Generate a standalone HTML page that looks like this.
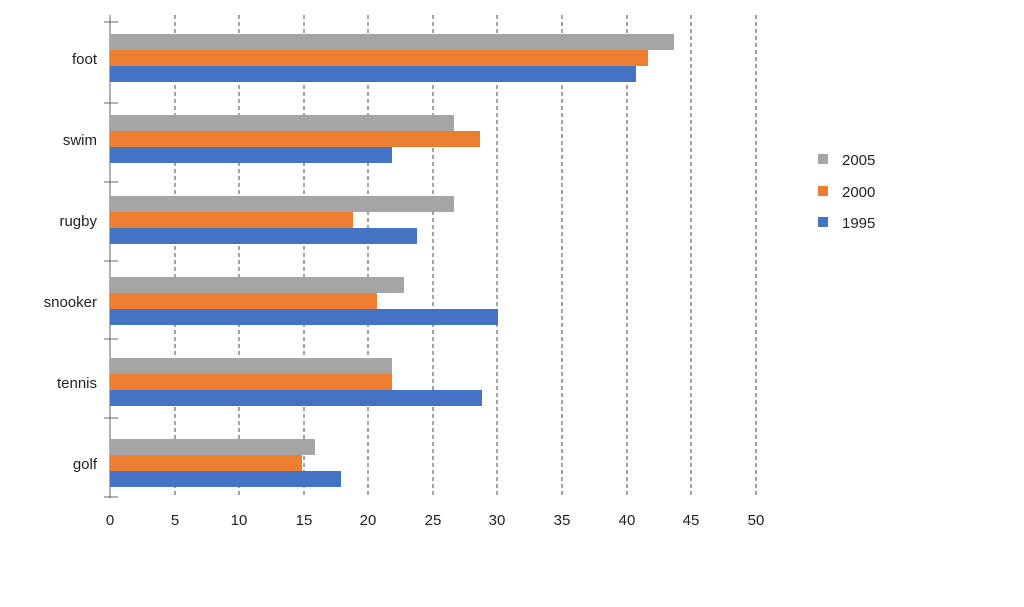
<!DOCTYPE html>
<html><head><meta charset="utf-8"><style>
html,body{margin:0;padding:0;background:#fff;width:1024px;height:607px;overflow:hidden}
svg text{font-family:"Liberation Sans",sans-serif;font-size:15px;fill:#222}
</style></head><body>
<svg width="1024" height="607" viewBox="0 0 1024 607" xmlns="http://www.w3.org/2000/svg">
<g stroke="#444" stroke-width="1" stroke-dasharray="4,3">
<line x1="175" y1="15" x2="175" y2="498"/><line x1="239" y1="15" x2="239" y2="498"/>
<line x1="304" y1="15" x2="304" y2="498"/><line x1="368" y1="15" x2="368" y2="498"/>
<line x1="433" y1="15" x2="433" y2="498"/><line x1="497" y1="15" x2="497" y2="498"/>
<line x1="562" y1="15" x2="562" y2="498"/><line x1="627" y1="15" x2="627" y2="498"/>
<line x1="691" y1="15" x2="691" y2="498"/><line x1="756" y1="15" x2="756" y2="498"/>
</g>
<g stroke="#666" stroke-width="1">
<line x1="110" y1="15" x2="110" y2="498"/>
<line x1="104" y1="22" x2="118" y2="22"/><line x1="104" y1="103" x2="118" y2="103"/>
<line x1="104" y1="182" x2="118" y2="182"/><line x1="104" y1="261" x2="118" y2="261"/>
<line x1="104" y1="339" x2="118" y2="339"/><line x1="104" y1="418" x2="118" y2="418"/>
<line x1="104" y1="497" x2="118" y2="497"/>
</g>
<g>
<rect x="110" y="34" width="564" height="16" fill="#a5a5a5"/>
<rect x="110" y="50" width="538" height="16" fill="#ed7d31"/>
<rect x="110" y="66" width="526" height="16" fill="#4472c4"/>
<rect x="110" y="115" width="344" height="16" fill="#a5a5a5"/>
<rect x="110" y="131" width="370" height="16" fill="#ed7d31"/>
<rect x="110" y="147" width="282" height="16" fill="#4472c4"/>
<rect x="110" y="196" width="344" height="16" fill="#a5a5a5"/>
<rect x="110" y="212" width="243" height="16" fill="#ed7d31"/>
<rect x="110" y="228" width="307" height="16" fill="#4472c4"/>
<rect x="110" y="277" width="294" height="16" fill="#a5a5a5"/>
<rect x="110" y="293" width="267" height="16" fill="#ed7d31"/>
<rect x="110" y="309" width="388" height="16" fill="#4472c4"/>
<rect x="110" y="358" width="282" height="16" fill="#a5a5a5"/>
<rect x="110" y="374" width="282" height="16" fill="#ed7d31"/>
<rect x="110" y="390" width="372" height="16" fill="#4472c4"/>
<rect x="110" y="439" width="205" height="16" fill="#a5a5a5"/>
<rect x="110" y="455" width="192" height="16" fill="#ed7d31"/>
<rect x="110" y="471" width="231" height="16" fill="#4472c4"/>
</g>
<g text-anchor="end">
<text x="97" y="64">foot</text><text x="97" y="145">swim</text>
<text x="97" y="226">rugby</text><text x="97" y="307">snooker</text>
<text x="97" y="388">tennis</text><text x="97" y="469">golf</text>
</g>
<g text-anchor="middle">
<text x="110" y="525">0</text><text x="175" y="525">5</text><text x="239" y="525">10</text>
<text x="304" y="525">15</text><text x="368" y="525">20</text><text x="433" y="525">25</text>
<text x="497" y="525">30</text><text x="562" y="525">35</text><text x="627" y="525">40</text>
<text x="691" y="525">45</text><text x="756" y="525">50</text>
</g>
<rect x="818" y="154" width="10" height="10" fill="#a5a5a5"/>
<rect x="818" y="186" width="10" height="10" fill="#ed7d31"/>
<rect x="818" y="217" width="10" height="10" fill="#4472c4"/>
<text x="842" y="165">2005</text><text x="842" y="197">2000</text><text x="842" y="228">1995</text>
</svg>
</body></html>
